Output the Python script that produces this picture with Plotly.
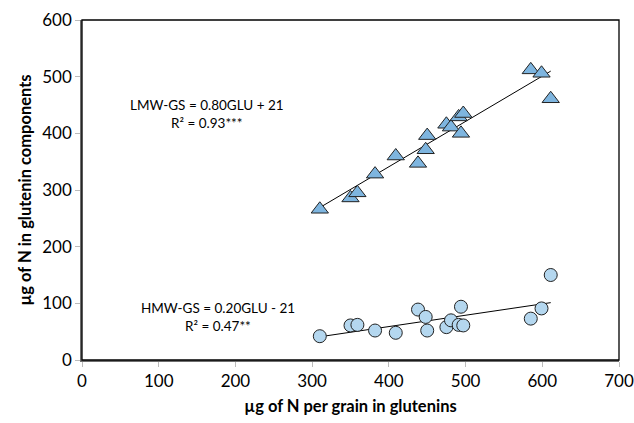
import plotly.graph_objects as go

glu = [310, 350, 359, 382, 409, 438, 448, 450, 475, 481, 491, 497, 494, 585, 599, 611]
lmw = [266, 286, 295, 328, 360, 347, 371, 396, 416, 411, 429, 435, 400, 512, 506, 461]
hmw = [42, 61, 62, 52, 48, 89, 76, 52, 58, 70, 62, 61, 94, 73, 91, 150]

lmw_slope, lmw_int = 0.80, 21
hmw_slope, hmw_int = 0.20, -21

xmin, xmax = min(glu), max(glu)
font = "Lato, 'Open Sans', sans-serif"

L, R, T, B = 82, 619, 20, 360
W, H = R - L, B - T

fig = go.Figure()
fig.add_trace(go.Scatter(x=[xmin, xmax], y=[lmw_slope * xmin + lmw_int, lmw_slope * xmax + lmw_int],
                         mode="lines", line=dict(color="black", width=1), showlegend=False))
fig.add_trace(go.Scatter(x=[xmin, xmax], y=[hmw_slope * xmin + hmw_int, hmw_slope * xmax + hmw_int],
                         mode="lines", line=dict(color="black", width=1), showlegend=False))
fig.add_trace(go.Scatter(x=glu, y=hmw, mode="markers", showlegend=False,
                         marker=dict(symbol="circle", size=13, color="#B4D7EF",
                                     line=dict(color="#222222", width=1))))
fig.add_trace(go.Scatter(x=glu, y=lmw, mode="markers", showlegend=False,
                         marker=dict(symbol="triangle-up", size=15, color="#7EB5DF",
                                     line=dict(color="#222222", width=1))))

ann = dict(xref="paper", yref="paper", showarrow=False, xanchor="center", yanchor="middle",
           font=dict(family=font, size=13.5, color="black"))
fig.add_annotation(x=(207 - L) / W, y=(B - 105) / H, text="LMW-GS = 0.80GLU + 21", **ann)
fig.add_annotation(x=(207 - L) / W, y=(B - 123) / H, text="R² = 0.93***", **ann)
fig.add_annotation(x=(218 - L) / W, y=(B - 308) / H, text="HMW-GS = 0.20GLU - 21", **ann)
fig.add_annotation(x=(218 - L) / W, y=(B - 326) / H, text="R² = 0.47**", **ann)

fig.add_shape(type="rect", xref="paper", yref="paper", x0=0, y0=0, x1=1, y1=1,
              line=dict(color="black", width=1.3), layer="above")

fig.update_layout(
    width=634, height=423,
    margin=dict(l=L, r=634 - R, t=T, b=423 - B, autoexpand=False),
    paper_bgcolor="white", plot_bgcolor="white",
    font=dict(family=font, size=17, color="black"),
)
fig.update_xaxes(range=[0, 700], dtick=100, showgrid=False, zeroline=False, automargin=False,
                 showline=True, linecolor="#6E6E6E", linewidth=1.5, mirror=False,
                 ticks="outside", ticklen=5, tickcolor="#BBBBBB",
                 title=dict(text="<b>µg of N per grain in glutenins</b>", font=dict(size=16.5), standoff=10))
fig.update_yaxes(range=[0, 600], dtick=100, showgrid=False, zeroline=False, automargin=False,
                 showline=True, linecolor="#6E6E6E", linewidth=1.5, mirror=False,
                 ticks="outside", ticklen=5, tickcolor="#BBBBBB",
                 title=dict(text="<b>µg of N in glutenin components</b>", font=dict(size=16.5), standoff=6))

fig.write_html("out.html", config={"displayModeBar": False},
               post_script="document.body.style.margin='0';document.body.style.overflow='hidden';")
